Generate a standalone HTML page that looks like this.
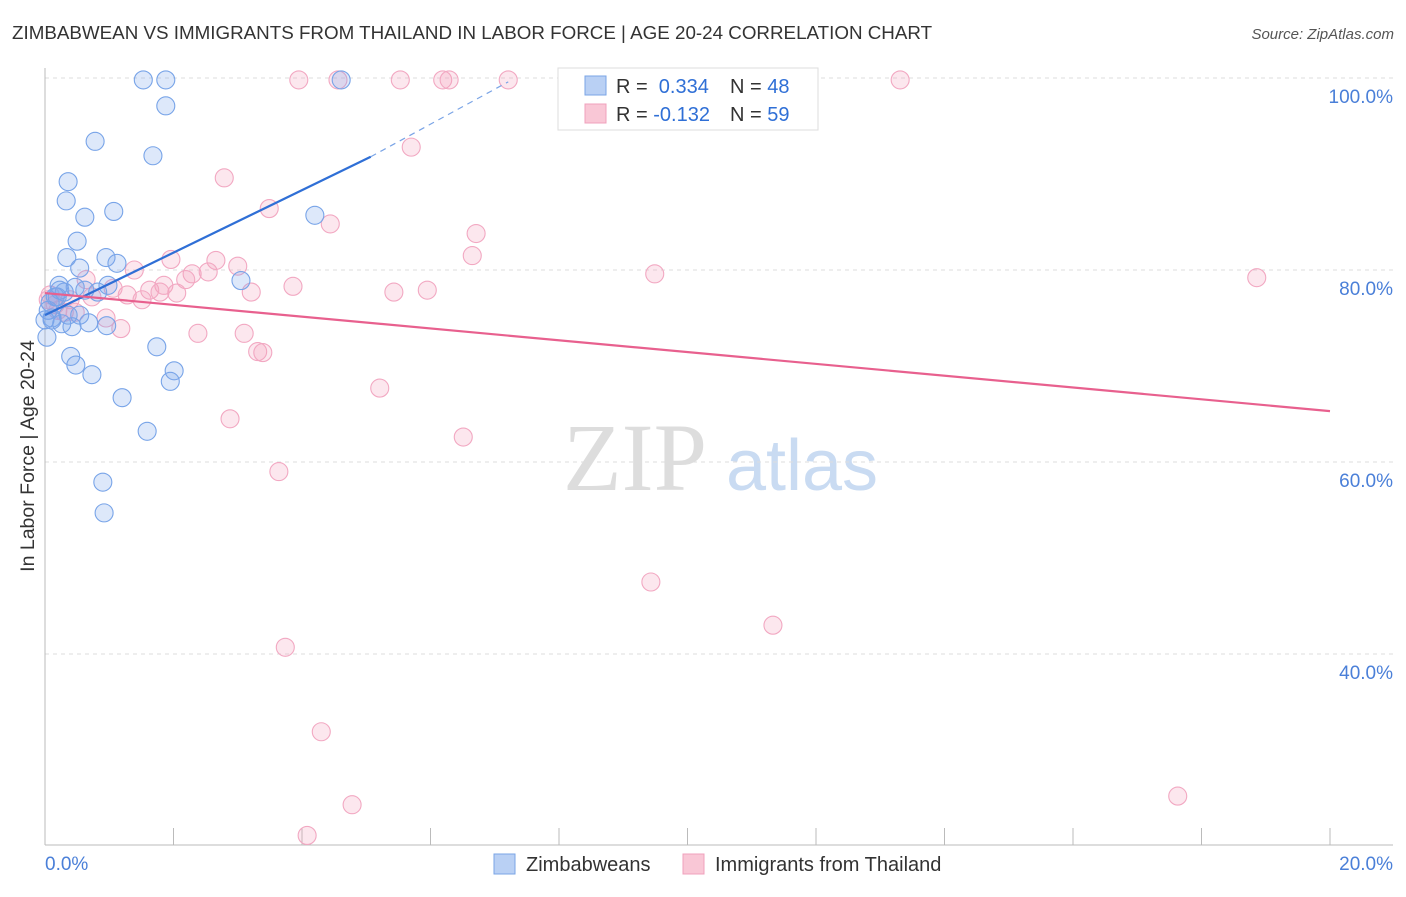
<!DOCTYPE html>
<html><head><meta charset="utf-8"><style>
body{margin:0;background:#fff;font-family:"Liberation Sans",sans-serif;}
</style></head><body>
<svg id="c" width="1406" height="892" xmlns="http://www.w3.org/2000/svg">
<text x="12" y="39" font-size="18.8" fill="#333">ZIMBABWEAN VS IMMIGRANTS FROM THAILAND IN LABOR FORCE | AGE 20-24 CORRELATION CHART</text>
<text x="1394" y="39" font-size="15" fill="#555" font-style="italic" text-anchor="end">Source: ZipAtlas.com</text>
<text transform="translate(34,456) rotate(-90)" font-size="19.5" fill="#333" text-anchor="middle">In Labor Force | Age 20-24</text>
<g><text x="635" y="490" font-size="96" fill="#ddd" font-family="Liberation Serif,serif" text-anchor="middle">ZIP</text><text x="802" y="490" font-size="72" fill="#c9dbf2" text-anchor="middle">atlas</text></g>
<g id="grid"></g><g id="axes"></g><g id="pts"></g><g id="lines"></g>
<g>
<rect x="558" y="68" width="260" height="62" fill="#fff" stroke="#ddd"/>
<rect x="585" y="76" width="21" height="19" fill="#b9d0f4" stroke="#7aa4e6"/>
<rect x="585" y="104" width="21" height="19" fill="#f9c7d6" stroke="#f0a0bc"/>
<text x="616" y="93" font-size="20" fill="#333">R = <tspan fill="#2f6fd6">&#160;0.334</tspan><tspan x="730">N = </tspan><tspan fill="#2f6fd6">48</tspan></text>
<text x="616" y="121" font-size="20" fill="#333">R = <tspan fill="#2f6fd6">-0.132</tspan><tspan x="730">N = </tspan><tspan fill="#2f6fd6">59</tspan></text>
</g>
<g>
<rect x="494" y="854" width="21" height="20" fill="#b9d0f4" stroke="#7aa4e6"/>
<text x="526" y="871" font-size="20" fill="#333">Zimbabweans</text>
<rect x="683" y="854" width="21" height="20" fill="#f9c7d6" stroke="#f0a0bc"/>
<text x="715" y="871" font-size="20" fill="#333">Immigrants from Thailand</text>
</g>
</svg>
<script>
const yTicks=[40,60,80,100];
const yTickLabels=["40.0%","60.0%","80.0%","100.0%"];
const xAxisLabels=["0.0%","20.0%"];
const blueX=[1.53,1.88,4.61,1.88,0.78,1.68,0.36,0.33,0.62,1.07,4.20,0.50,0.34,0.95,1.12,0.54,3.05,0.22,0.47,0.98,0.30,0.82,0.19,0.08,0.54,0.11,0.26,0.42,0.68,0.96,0.03,0.40,1.74,0.48,0.73,2.01,1.95,1.20,1.59,0.90,0.92,0.16,0.05,0.0,0.23,0.36,0.62,0.11];
const blueY=[99.8,99.8,99.8,97.1,93.4,91.9,89.2,87.2,85.5,86.1,85.7,83.0,81.3,81.3,80.7,80.2,78.9,78.4,78.2,78.4,77.7,77.7,77.2,76.6,75.3,74.8,74.4,74.1,74.5,74.2,73.0,71.0,72.0,70.1,69.1,69.5,68.4,66.7,63.2,57.9,54.7,77.2,75.8,74.8,77.9,75.3,77.9,75.0];
const pinkX=[3.95,4.56,5.53,6.19,6.29,7.21,13.31,5.70,2.79,3.49,4.44,6.71,6.65,9.49,18.86,1.96,2.66,1.39,2.29,2.54,3.00,2.19,1.85,1.63,1.79,2.05,3.21,3.86,5.43,5.95,1.28,1.51,1.06,0.64,0.73,0.39,0.16,0.30,0.05,0.95,1.18,2.38,3.10,3.31,3.39,5.21,2.88,6.51,3.64,9.43,11.33,3.74,4.30,4.78,4.08,17.63,0.20,0.47,0.08];
const pinkY=[99.8,99.8,99.8,99.8,99.8,99.8,99.8,92.8,89.6,86.4,84.8,83.8,81.5,79.6,79.2,81.1,81.0,80.0,79.6,79.8,80.4,79.0,78.4,77.9,77.7,77.6,77.7,78.3,77.7,77.9,77.4,76.9,78.1,79.0,77.2,76.9,76.4,75.6,76.9,75.0,73.9,73.4,73.4,71.5,71.4,67.7,64.5,62.6,59.0,47.5,43.0,40.7,31.9,24.3,21.1,25.2,75.8,75.6,77.4];
const blueTrendX=[0,5.07,7.21];
const blueTrendY=[75.3,91.8,99.6];
const pinkTrendX=[0,20];
const pinkTrendY=[77.6,65.3];
const X0=45,X1=1330;
const sx=v=>X0+(v/20)*(X1-X0);
const sy=v=>78+(100-v)*9.6;
const NS="http://www.w3.org/2000/svg";
function mk(tag,attrs,parent){const e=document.createElementNS(NS,tag);for(const k in attrs)e.setAttribute(k,attrs[k]);document.getElementById(parent).appendChild(e);return e;}
yTicks.forEach((t,i)=>{
  const g=mk('line',{x1:45,x2:1393,y1:sy(t),y2:sy(t),stroke:'#ddd','stroke-dasharray':'4,4'},'grid');
  
  
  const l=mk('text',{x:1393,y:sy(t)+25,'font-size':19,fill:'#4a7fd8','text-anchor':'end'},'grid');
  l.textContent=yTickLabels[i];
  
  
});
const ya=mk('line',{x1:45,x2:45,y1:68,y2:845,stroke:'#bbb'},'axes');


const xa=mk('line',{x1:45,x2:1393,y1:845,y2:845,stroke:'#bbb'},'axes');


for(let i=1;i<=10;i++){
  const t=mk('line',{x1:sx(i*2),x2:sx(i*2),y1:828,y2:845,stroke:'#bbb'},'axes');
  
  
}
const xl0=mk('text',{x:45,y:870,'font-size':19,fill:'#4a7fd8'},'axes');xl0.textContent=xAxisLabels[0];


const xl1=mk('text',{x:1393,y:870,'font-size':19,fill:'#4a7fd8','text-anchor':'end'},'axes');xl1.textContent=xAxisLabels[1];


pinkX.forEach((x,i)=>{
  const c=mk('circle',{cx:sx(x),cy:sy(pinkY[i]),r:9,fill:'rgba(244,160,188,0.25)',stroke:'#f2a8c2','stroke-width':1.1},'pts');
  
  
});
blueX.forEach((x,i)=>{
  const c=mk('circle',{cx:sx(x),cy:sy(blueY[i]),r:9,fill:'rgba(120,165,235,0.25)',stroke:'#78a4e8','stroke-width':1.1},'pts');
  
  
});
const b1=mk('line',{x1:sx(blueTrendX[0]),y1:sy(blueTrendY[0]),x2:sx(blueTrendX[1]),y2:sy(blueTrendY[1]),stroke:'#2f6fd6','stroke-width':2.2},'lines');


const b2=mk('line',{x1:sx(blueTrendX[1]),y1:sy(blueTrendY[1]),x2:sx(blueTrendX[2]),y2:sy(blueTrendY[2]),stroke:'#7aa4e6','stroke-width':1.2,'stroke-dasharray':'6,5'},'lines');


const p1=mk('line',{x1:sx(pinkTrendX[0]),y1:sy(pinkTrendY[0]),x2:sx(pinkTrendX[1]),y2:sy(pinkTrendY[1]),stroke:'#e8608e','stroke-width':2.2},'lines');


</script>
</body></html>
